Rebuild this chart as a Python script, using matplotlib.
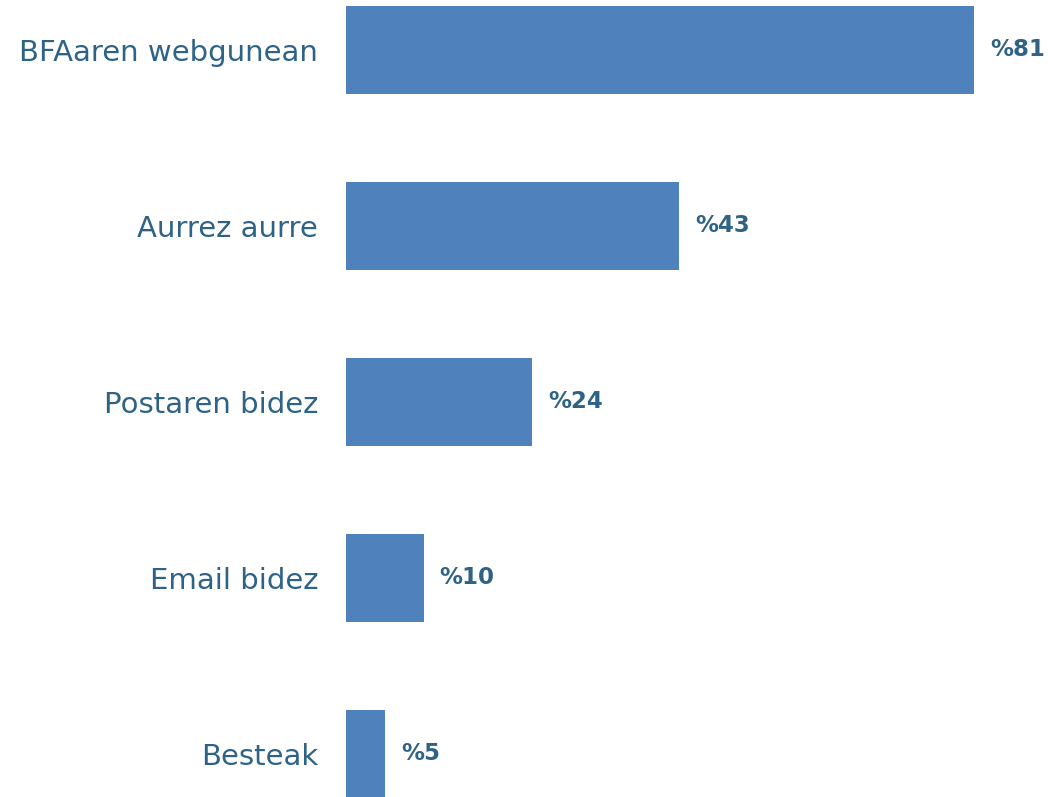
import matplotlib
matplotlib.use("Agg")
import matplotlib.pyplot as plt

categories = ["BFAaren webgunean", "Aurrez aurre", "Postaren bidez", "Email bidez", "Besteak"]
values = [81, 43, 24, 10, 5]
value_labels = ["%81", "%43", "%24", "%10", "%5"]

bar_color = "#4F81BD"
text_color = "#2E6386"

fig = plt.figure(figsize=(10.48, 7.97), dpi=100)
ax = fig.add_axes([346 / 1048, 0, 1 - 346 / 1048, 1])
y = list(range(len(categories)))
ax.barh(y, values, height=0.5, color=bar_color)
ax.set_xlim(0, (1048 - 346) / 7.753)
ax.set_ylim((797 - 50) / 176, -50 / 176)
for s in ax.spines.values():
    s.set_visible(False)
ax.set_xticks([])
ax.set_yticks(y)
ax.set_yticklabels(categories, fontsize=21, color=text_color, family="DejaVu Sans")
ax.tick_params(axis="y", length=0, pad=20)
for yi, v, lab in zip(y, values, value_labels):
    ax.annotate(lab, (v, yi), xytext=(16, 0), textcoords="offset pixels",
                ha="left", va="center", fontsize=16.5, fontweight="bold",
                color=text_color, family="DejaVu Sans")
fig.savefig("out.png", dpi=100)
